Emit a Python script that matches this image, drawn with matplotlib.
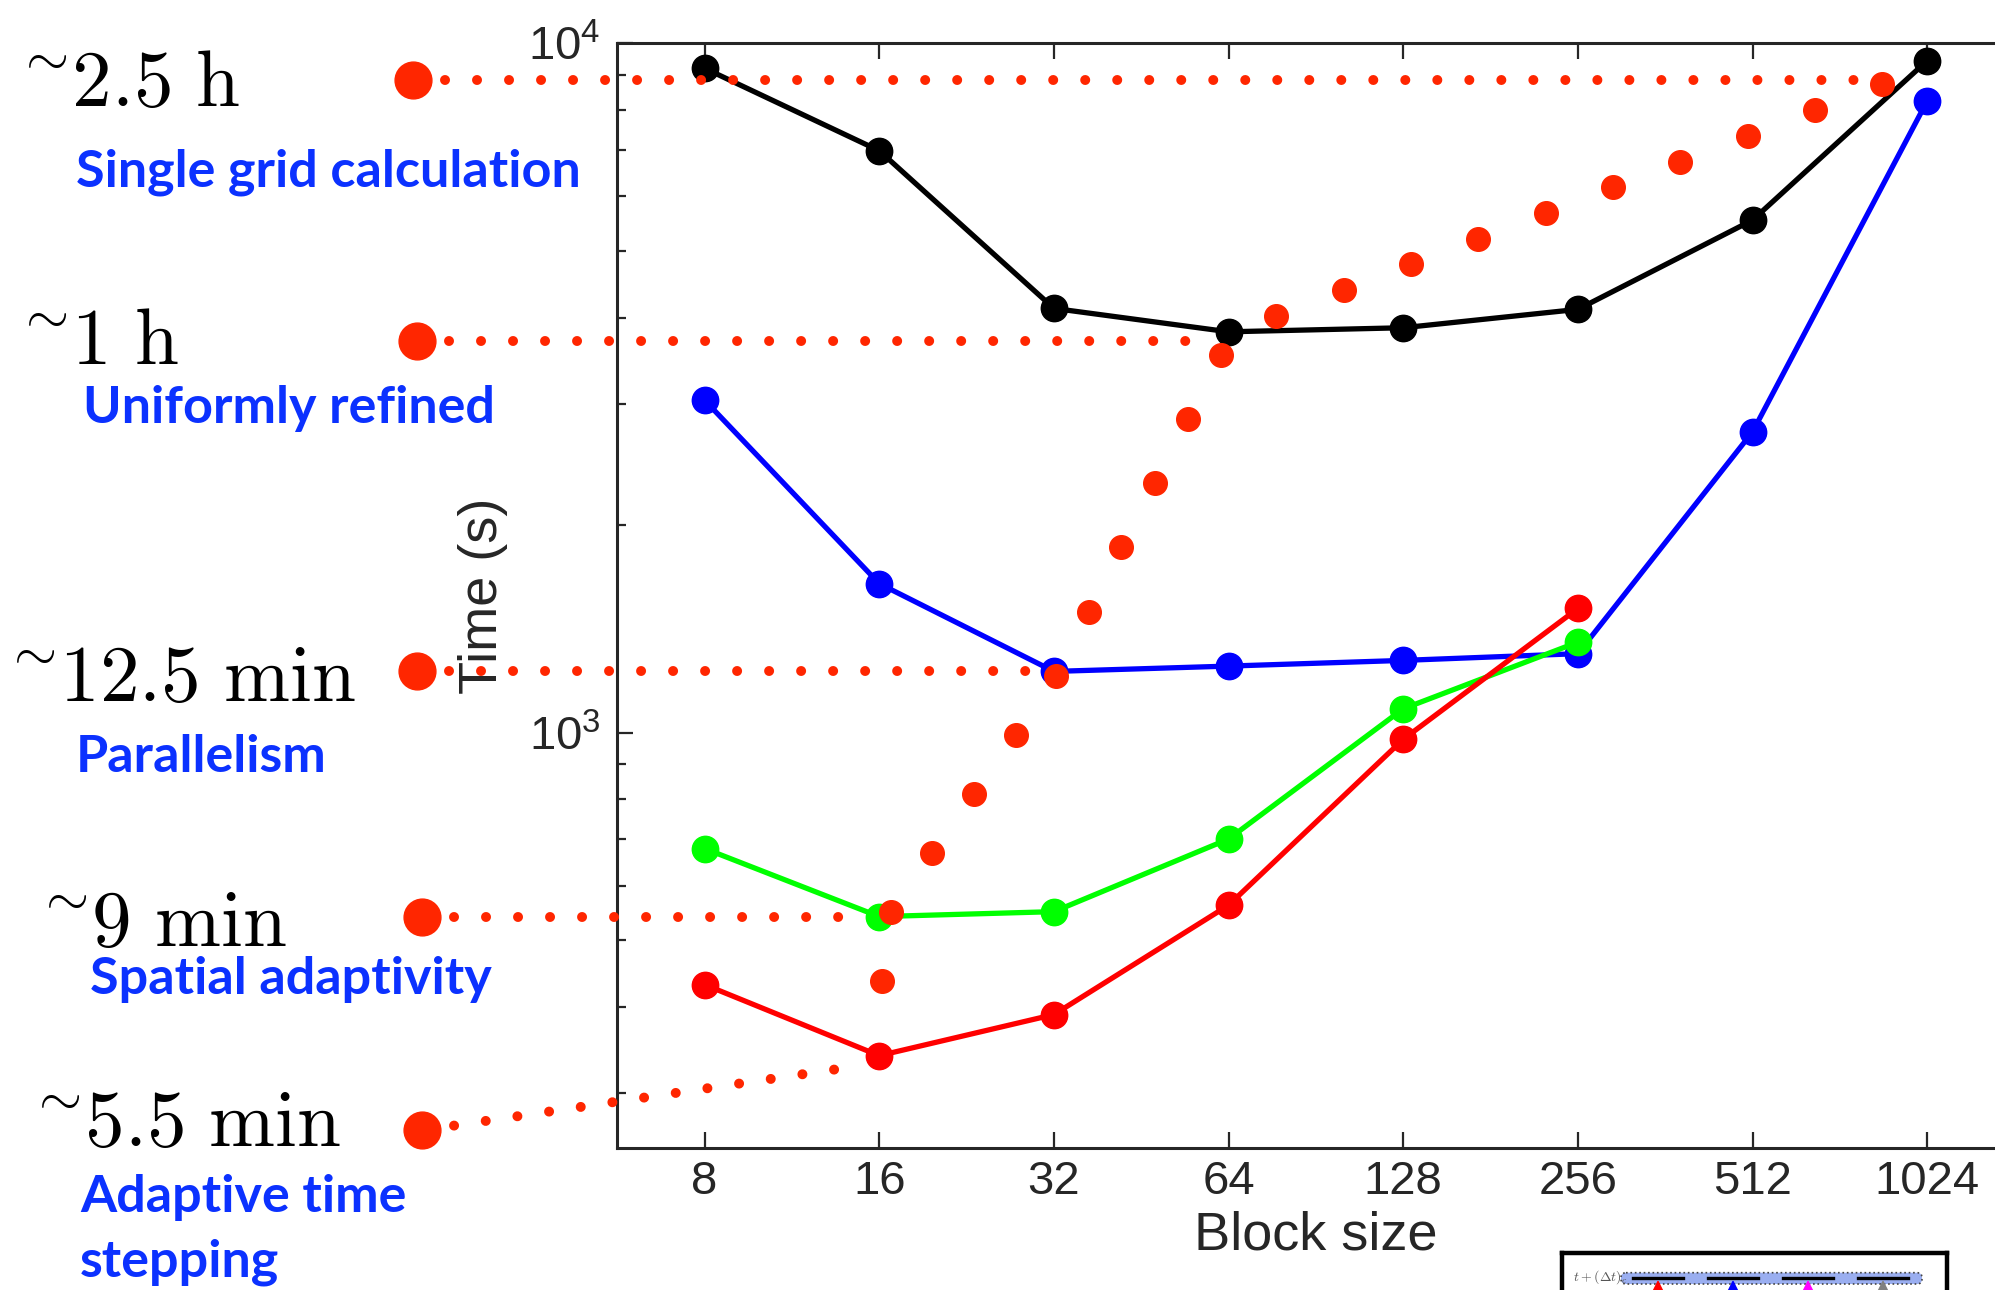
import numpy as np
import matplotlib
matplotlib.use("Agg")
import matplotlib.pyplot as plt
from matplotlib.ticker import FixedLocator, FuncFormatter, NullFormatter, LogLocator
from matplotlib.patches import FancyBboxPatch

plt.rcParams['font.family'] = ['Liberation Sans', 'DejaVu Sans']

# measured run times (s) against block size
block_sizes = [8, 16, 32, 64, 128, 256, 512, 1024]
t_single_grid = [9200, 6985, 4125, 3815, 3867, 4112, 5540, 9435]
t_parallel = [3036, 1645, 1227, 1249, 1273, 1302, 2731, 8247]
t_spatial = [679, 541, 550, 701, 1083, 1353]
t_adaptive_dt = [431, 340, 390, 562, 978, 1514]

# hand drawn red dotted curve (x as log2 of block size)
curve_log2 = [4.016, 4.067, 4.304, 4.542, 4.780, 5.014, 5.202, 5.385, 5.579, 5.765,
              5.955, 6.273, 6.660, 7.044, 7.429, 7.815, 8.200, 8.586, 8.972, 9.357, 9.739]
curve_time = [436, 550, 670, 816, 993, 1207, 1498, 1859, 2302, 2851,
              3528, 4023, 4385, 4778, 5204, 5677, 6180, 6733, 7336, 8000, 8730]

# annotation levels: big dot on the left, dotted guide to the curve
ann_text = [r"${}^{\sim}\!2.5\ \mathrm{h}$", r"${}^{\sim}\!1\ \mathrm{h}$",
            r"${}^{\sim}\!12.5\ \mathrm{min}$", r"${}^{\sim}\!9\ \mathrm{min}$",
            r"${}^{\sim}\!5.5\ \mathrm{min}$"]
ann_caption = ["Single grid calculation", "Uniformly refined", "Parallelism",
               "Spatial adaptivity", "Adaptive time\nstepping"]
ann_x0 = [1.328, 1.353, 1.353, 1.384, 1.384]
ann_t0 = [8846, 3702, 1229, 540, 265]
ann_x1 = [9.833, 5.824, 5.09, 3.836, 3.812]
ann_t1 = [8846, 3702, 1229, 540, 326.5]

W, H = 1995, 1290
def fx(px):
    return px / W
def fy(py):
    return 1 - py / H

fig = plt.figure(figsize=(W / 100, H / 100), dpi=100)
ax = fig.add_axes([fx(617.3), fy(1147.7), (2014.5 - 617.3) / W, (1147.7 - 43.3) / H])

xs = np.log2(block_sizes)
lw, ms = 3.8, 19
ax.plot(xs, t_single_grid, '-o', color='black', lw=lw, ms=ms, zorder=3)
ax.plot(xs, t_parallel, '-o', color='#0000ff', lw=lw, ms=ms, zorder=3)
ax.plot(xs[:6], t_spatial, '-o', color='#00ff00', lw=lw, ms=ms, zorder=3)
ax.plot(xs[:6], t_adaptive_dt, '-o', color='#ff0000', lw=lw, ms=ms, zorder=3)

red = '#ff2600'
ax.plot(curve_log2, curve_time, 'o', color=red, ms=17, zorder=5)
for x0, t0, x1, t1 in zip(ann_x0, ann_t0, ann_x1, ann_t1):
    ax.plot([x0, x1], [t0, t1], color=red, lw=7.2, linestyle=(0, (0.001, 3.2)),
            dash_capstyle='round', clip_on=False, zorder=4)
    ax.plot([x0], [t0], 'o', color=red, ms=26.5, clip_on=False, zorder=5)

ax.set_xlim(2.5, 10.5)
ax.set_yscale('log')
ax.set_ylim(250, 1e4)
ax.xaxis.set_major_locator(FixedLocator(xs))
ax.set_xticklabels([str(b) for b in block_sizes])
ax.yaxis.set_major_locator(LogLocator(base=10))
ax.yaxis.set_minor_locator(LogLocator(base=10, subs=np.arange(2, 10)))
ax.yaxis.set_major_formatter(FuncFormatter(
    lambda v, p: r"$\mathregular{10^{%d}}$" % int(round(np.log10(v)))))
ax.yaxis.set_minor_formatter(NullFormatter())

dark = '#262626'
for s in ax.spines.values():
    s.set_color(dark)
    s.set_linewidth(2.2)
ax.tick_params(which='both', direction='in', top=True, right=True, color=dark, width=1.6)
ax.tick_params(which='major', length=11.5)
ax.tick_params(which='minor', length=6.5)
ax.tick_params(axis='x', labelsize=34, labelcolor=dark, pad=9)
ax.tick_params(axis='y', labelsize=34, labelcolor=dark, pad=12)

ax.set_xlabel('Block size', fontsize=39, color=dark)
ax.xaxis.set_label_coords(0.5, -0.057)
ax.set_ylabel('Time (s)', fontsize=39, color=dark)
ax.yaxis.set_label_coords(-0.078, 0.5)

# labels on the left
tilde_pos = [(12, 106), (12, 364), (0, 701), (32, 946), (25, 1146)]
caption_pos = [(76, 187), (83, 423), (76, 772), (90, 994), (80, 1212)]
for txt, (px, py) in zip(ann_text, tilde_pos):
    fig.text(fx(px), fy(py), txt, fontsize=57, color='black', ha='left',
             va='baseline', math_fontfamily='cm')
for cap, (px, py) in zip(ann_caption, caption_pos):
    for i, line in enumerate(cap.split("\n")):
        fig.text(fx(px), fy(py + 64 * i), line, fontsize=37.5, fontweight='bold',
                 family='Lato', color='#0b31ff', ha='left', va='baseline')

# cropped inset at the bottom right
ins = fig.add_axes([fx(1562), fy(1330), (1947 - 1562) / W, (1330 - 1252.7) / H])
ins.set_xlim(1562, 1947)
ins.set_ylim(1330, 1252.7)
ins.set_xticks([])
ins.set_yticks([])
for s in ins.spines.values():
    s.set_linewidth(3.2)
    s.set_color('black')
ins.add_patch(FancyBboxPatch((1621, 1272.7), 301, 11.3,
                             boxstyle="round,pad=0,rounding_size=5",
                             facecolor='#9aaef0', edgecolor='#444444',
                             linestyle=':', lw=1.2))
for a, b in [(1633, 1683), (1708, 1758), (1783, 1833), (1858, 1908)]:
    ins.plot([a, b], [1278, 1278], color='black', lw=2.4)
ins.scatter([1658, 1733, 1808, 1883], [1288] * 4, marker='^', s=90,
            c=['red', 'blue', 'magenta', 'gray'], zorder=4)
ins.text(1573, 1281, r"$t+(\Delta t)_c$", fontsize=10, color='#555555',
         math_fontfamily='cm', va='baseline')

fig.savefig('out.png', dpi=100)
